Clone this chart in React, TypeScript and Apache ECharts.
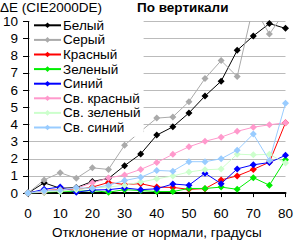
import React, { useEffect, useRef } from "react";
import * as echarts from "echarts";

// Deviation from the normal, degrees
const angles = [0, 5, 10, 15, 20, 25, 30, 35, 40, 45, 50, 55, 60, 65, 70, 75, 80];

const seriesNames = [
  "Белый",
  "Серый",
  "Красный",
  "Зеленый",
  "Синий",
  "Св. красный",
  "Св. зеленый",
  "Св. синий",
];

const white = [0, 0.6, 0.28, 0.32, 0.68, 0.85, 1.6, 2.28, 3.38, 3.86, 4.67, 5.66, 6.52, 8.32, 9.16, 9.88, 9.6];
const gray = [0, 0.77, 1.19, 0.86, 1.47, 1.38, 2.79, 3.6, 4.37, 4.44, 5.33, 6.68, 7.72, 6.79, 10.9, 9.27, 10.6];
const red = [0, 0.15, 0.2, 0.2, 0.35, 0.62, 0.5, 0.55, 0.35, 0.33, 0.22, 0.26, 0.77, 1.0, 1.38, 1.8, 4.1];
const green = [0, 0.05, 0.1, 0.1, 0.15, 0.05, 0.2, 0.15, 0.09, 0.09, 0.27, 0.27, 0.35, 0.22, 0.9, 0.46, 1.95];
const blue = [0, 0.22, 0.36, 0.05, 0.18, 0.2, 0.3, 0.2, 0.25, 0.53, 0.46, 1.16, 0.55, 1.41, 1.65, 1.78, 2.2];
const lightRed = [0, 0.05, 0.2, 0.28, 0.6, 0.88, 1.06, 1.38, 1.78, 2.26, 2.7, 3.02, 3.26, 3.6, 3.84, 3.98, 4.1];
const lightGreen = [0, 0.1, 0.1, 0.2, 0.3, 0.35, 0.46, 0.64, 0.83, 1.0, 1.23, 1.36, 1.4, 2.27, 2.23, 2.26, 1.75];
const lightBlue = [0, 0.14, 0.18, 0.31, 0.28, 0.46, 0.73, 0.92, 1.32, 1.28, 1.83, 1.83, 2.0, 2.5, 3.44, 1.9, 5.23];

const seriesValues = [white, gray, red, green, blue, lightRed, lightGreen, lightBlue];
const seriesColors = ["#000000", "#aaaaaa", "#ff0000", "#00ee00", "#0000ff", "#ff99cc", "#ccffcc", "#99ccff"];

const FONT = "Arial, 'Liberation Sans', sans-serif";

export default function App() {
  const ref = useRef<HTMLDivElement>(null);

  useEffect(() => {
    if (!ref.current) return;
    const chart = echarts.init(ref.current, undefined, { renderer: "svg" });

    const series = seriesNames.map((name, i) => ({
      name,
      type: "line",
      data: angles.map((a, j) => [a, seriesValues[i][j]]),
      symbol: "diamond",
      symbolSize: 7,
      showSymbol: true,
      lineStyle: { color: seriesColors[i], width: 1 },
      itemStyle: { color: seriesColors[i] },
      emphasis: { disabled: true },
      clip: true,
    }));

    chart.setOption({
      animation: false,
      backgroundColor: "#ffffff",
      textStyle: { fontFamily: FONT },
      grid: { left: 25, right: 5, top: 21.5, bottom: 41.5, containLabel: false },
      xAxis: {
        type: "value",
        min: 0,
        max: 80,
        interval: 10,
        name: "Отклонение от нормали, градусы",
        nameLocation: "middle",
        nameGap: 29,
        nameTextStyle: { color: "#000", fontSize: 13.5, fontFamily: FONT },
        axisLine: { lineStyle: { color: "#000", width: 2 } },
        axisTick: { show: true, length: 4, lineStyle: { color: "#000" } },
        axisLabel: { color: "#000", fontSize: 13.5, fontFamily: FONT, margin: 13 },
        splitLine: { show: false },
      },
      yAxis: {
        type: "value",
        min: 0,
        max: 10,
        interval: 1,
        axisLine: { show: true, lineStyle: { color: "#000", width: 1 } },
        axisTick: { show: true, length: 5, lineStyle: { color: "#000" } },
        axisLabel: { color: "#000", fontSize: 13.5, fontFamily: FONT, margin: 10 },
        splitLine: { show: true, lineStyle: { color: "#bbbbbb", width: 1 } },
      },
      legend: {
        orient: "vertical",
        left: 30,
        top: 16,
        padding: [2, 3, 2, 3],
        backgroundColor: "#ffffff",
        itemWidth: 27,
        itemHeight: 7,
        itemGap: 0,
        selectedMode: false,
        textStyle: {
          color: "#000",
          fontSize: 13.5,
          fontFamily: FONT,
          lineHeight: 14.6,
          padding: [0, 0, 0, -3],
        },
        data: seriesNames,
      },
      graphic: [
        {
          type: "text",
          left: 0,
          top: 0,
          style: { text: "ΔE (CIE2000DE)", fill: "#000", font: `13.5px ${FONT}` },
        },
        {
          type: "text",
          left: 137,
          top: 0,
          style: { text: "По вертикали", fill: "#000", font: `bold 13.5px ${FONT}` },
        },
      ],
      series,
    });

    return () => chart.dispose();
  }, []);

  return (
    <div
      ref={ref}
      style={{ position: "fixed", left: 0, top: 0, width: 296, height: 244 }}
    />
  );
}
